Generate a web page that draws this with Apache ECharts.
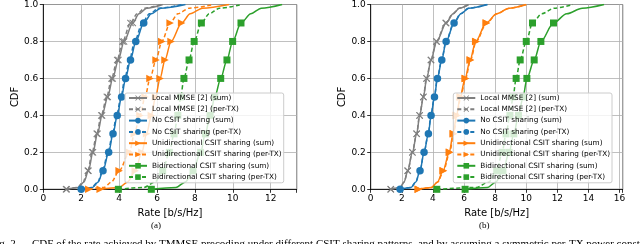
<!DOCTYPE html>
<html><head><meta charset="utf-8">
<script src="https://cdn.jsdelivr.net/npm/echarts@6/dist/echarts.min.js"></script>
<style>html,body{margin:0;padding:0;background:#fff}#c{width:640px;height:244px}</style>
</head><body><div id="c"></div>
<script>
// CDF levels at which rates were read; markers only on the 0..0.9 step levels
const cdfLevels = [0, 0.01, 0.04, 0.1, 0.2, 0.3, 0.4, 0.5, 0.6, 0.7, 0.8, 0.9, 0.95, 0.98, 1.0];
const markedLevels = [0, 0.1, 0.2, 0.3, 0.4, 0.5, 0.6, 0.7, 0.8, 0.9];
const seriesNames = [
  'Local MMSE [2] (sum)', 'Local MMSE [2] (per-TX)',
  'No CSIT sharing (sum)', 'No CSIT sharing (per-TX)',
  'Unidirectional CSIT sharing (sum)', 'Unidirectional CSIT sharing (per-TX)',
  'Bidirectional CSIT sharing (sum)', 'Bidirectional CSIT sharing (per-TX)'
];
const xTicksA = [0, 2, 4, 6, 8, 10, 12];
const xTicksB = [0, 2, 4, 6, 8, 10, 12, 14, 16];
const yTicks = [0.0, 0.2, 0.4, 0.6, 0.8, 1.0];

// Panel (a): rate [b/s/Hz] at each CDF level
const aLocalSum  = [1.23, 1.85, 2.15, 2.38, 2.62, 2.86, 3.10, 3.40, 3.66, 3.96, 4.26, 4.72, 5.05, 5.45, 6.3];
const aLocalPer  = [1.20, 1.80, 2.10, 2.35, 2.58, 2.82, 3.06, 3.35, 3.60, 3.90, 4.18, 4.60, 4.95, 5.35, 6.2];
const aNoSum     = [2.00, 2.60, 2.90, 3.15, 3.45, 3.68, 3.90, 4.13, 4.34, 4.60, 4.88, 5.30, 5.70, 6.20, 7.5];
const aNoPer     = [2.00, 2.55, 2.88, 3.12, 3.42, 3.65, 3.87, 4.10, 4.30, 4.55, 4.82, 5.22, 5.60, 6.10, 7.3];
const aUniSum    = [3.00, 4.00, 4.45, 4.85, 5.20, 5.45, 5.70, 5.92, 6.16, 6.42, 6.74, 7.30, 7.75, 8.40, 9.8];
const aUniPer    = [2.40, 3.20, 3.60, 4.00, 4.55, 4.80, 5.10, 5.37, 5.63, 5.95, 6.25, 6.69, 7.10, 7.70, 9.0];
const aBiSum     = [5.70, 7.00, 7.50, 7.90, 8.30, 8.55, 8.80, 9.05, 9.36, 9.69, 9.99, 10.43, 10.95, 11.5, 12.6];
const aBiPer     = [3.96, 5.30, 5.90, 6.30, 6.65, 6.90, 7.10, 7.25, 7.42, 7.69, 7.96, 8.34, 8.75, 9.30, 10.5];

// Panel (b)
const bLocalSum  = [1.29, 1.90, 2.15, 2.38, 2.68, 2.96, 3.15, 3.39, 3.60, 3.88, 4.24, 4.85, 5.30, 5.70, 6.3];
const bLocalPer  = [1.29, 1.90, 2.15, 2.38, 2.68, 2.95, 3.14, 3.38, 3.59, 3.87, 4.22, 4.82, 5.28, 5.68, 6.3];
const bNoSum     = [1.89, 2.60, 2.90, 3.17, 3.43, 3.71, 3.88, 4.10, 4.29, 4.57, 4.85, 5.36, 5.80, 6.30, 7.5];
const bNoPer     = [1.89, 2.60, 2.90, 3.17, 3.43, 3.70, 3.87, 4.09, 4.28, 4.56, 4.84, 5.34, 5.78, 6.28, 7.5];
const bUniSum    = [3.06, 3.90, 4.30, 4.65, 5.05, 5.30, 5.52, 5.75, 6.07, 6.39, 6.75, 7.42, 8.10, 8.90, 10.0];
const bUniPer    = [3.06, 3.92, 4.32, 4.68, 5.08, 5.33, 5.55, 5.78, 6.10, 6.42, 6.78, 7.45, 8.12, 8.92, 10.0];
const bBiSum     = [6.07, 7.50, 8.05, 8.50, 8.90, 9.20, 9.50, 9.80, 10.04, 10.51, 10.94, 11.75, 12.6, 13.6, 15.0];
const bBiPer     = [4.25, 6.80, 7.60, 8.10, 8.45, 8.70, 8.95, 9.15, 9.35, 9.61, 10.00, 10.40, 11.0, 11.8, 13.0];

const panelA = [aLocalSum, aLocalPer, aNoSum, aNoPer, aUniSum, aUniPer, aBiSum, aBiPer];
const panelB = [bLocalSum, bLocalPer, bNoSum, bNoPer, bUniSum, bUniPer, bBiSum, bBiPer];

const GRAY = '#7f7f7f', BLUE = '#1f77b4', ORANGE = '#ff7f0e', GREEN = '#2ca02c';
const XSYM = 'path://M0,1 L1,0 L5,4 L9,0 L10,1 L6,5 L10,9 L9,10 L5,6 L1,10 L0,9 L4,5 Z';
const TRI = 'path://M0,0 L10,5 L0,10 Z';
const styles = [
  {c: GRAY, dash: false, sym: XSYM, size: 7},
  {c: GRAY, dash: true, sym: XSYM, size: 7},
  {c: BLUE, dash: false, sym: 'circle', size: 7.5},
  {c: BLUE, dash: true, sym: 'circle', size: 4.5},
  {c: ORANGE, dash: false, sym: TRI, size: 7.5},
  {c: ORANGE, dash: true, sym: TRI, size: 7.5},
  {c: GREEN, dash: false, sym: 'rect', size: 7},
  {c: GREEN, dash: true, sym: 'rect', size: 7}
];

function mkSeries(idx, xs, g) {
  const st = styles[idx];
  const data = xs.map((x, i) => {
    const lvl = cdfLevels[i];
    return markedLevels.indexOf(lvl) >= 0 ? [x, lvl] : {value: [x, lvl], symbol: 'none'};
  });
  return {
    type: 'line', name: seriesNames[idx], xAxisIndex: g, yAxisIndex: g, data,
    smooth: 0.3, smoothMonotone: 'x', symbol: st.sym, symbolSize: st.size, showAllSymbol: true,
    lineStyle: {color: st.c, width: 1.5, type: st.dash ? [4, 2.5] : 'solid'},
    itemStyle: {color: st.c, borderWidth: 0},
    emphasis: {disabled: true}, silent: true, clip: true
  };
}

const FONT = 'DejaVu Sans';
function xAxis(g, max, ticks) {
  return {
    gridIndex: g, type: 'value', min: 0, max: max, interval: 2,
    axisLine: {show: true, onZero: false, lineStyle: {color: '#000', width: 0.8}},
    axisTick: {show: true, length: 3.5, lineStyle: {color: '#000', width: 0.8}},
    axisLabel: {fontSize: 9, color: '#000', margin: 5, fontFamily: FONT,
      formatter: v => ticks.indexOf(v) >= 0 ? String(v) : ''},
    splitLine: {show: true, lineStyle: {color: '#b0b0b0', width: 0.8}},
    name: 'Rate [b/s/Hz]', nameLocation: 'middle', nameGap: 15,
    nameTextStyle: {fontSize: 10, color: '#000', fontFamily: FONT}
  };
}
function yAxis(g, gap) {
  return {
    gridIndex: g, type: 'value', min: 0, max: 1, interval: 0.2,
    axisLine: {show: true, lineStyle: {color: '#000', width: 0.8}},
    axisTick: {show: true, length: 3.5, lineStyle: {color: '#000', width: 0.8}},
    axisLabel: {fontSize: 9, color: '#000', margin: 5, fontFamily: FONT,
      formatter: v => yTicks.some(t => Math.abs(t - v) < 1e-9) ? v.toFixed(1) : ''},
    splitLine: {show: true, lineStyle: {color: '#b0b0b0', width: 0.8}},
    name: 'CDF', nameLocation: 'middle', nameGap: gap, nameRotate: 90,
    nameTextStyle: {fontSize: 10, color: '#000', fontFamily: FONT}
  };
}
function legend(left) {
  return {
    left: left, top: 93, orient: 'vertical', data: seriesNames, selectedMode: false,
    itemWidth: 18, itemHeight: 7, itemGap: 4.3,
    textStyle: {fontSize: 7.3, lineHeight: 7, color: '#000', fontFamily: FONT},
    backgroundColor: 'rgba(255,255,255,0.8)', borderColor: '#cccccc', borderWidth: 1, borderRadius: 2,
    padding: [1.5, 2, 2.2, 3], z: 10
  };
}

const series = [];
panelA.forEach((xs, i) => series.push(mkSeries(i, xs, 0)));
panelB.forEach((xs, i) => series.push(mkSeries(i, xs, 1)));

const chart = echarts.init(document.getElementById('c'), null, {renderer: 'canvas'});
chart.setOption({
  animation: false,
  backgroundColor: '#fff',
  grid: [
    {left: 43.3, top: 2.7, width: 253.4, height: 186.6, show: true, borderColor: '#000', borderWidth: 0.8, backgroundColor: 'transparent'},
    {left: 370.7, top: 2.7, width: 252, height: 186.6, show: true, borderColor: '#000', borderWidth: 0.8, backgroundColor: 'transparent'}
  ],
  xAxis: [xAxis(0, 13.37, xTicksA), xAxis(1, 16.2, xTicksB)],
  yAxis: [yAxis(0, 20), yAxis(1, 21)],
  legend: [legend(125), legend(453.3)],
  series: series,
  graphic: [
    {type: 'text', left: 151, top: 221, style: {text: '(a)', fontSize: 9, fontFamily: 'Liberation Serif', fill: '#000'}},
    {type: 'text', left: 479, top: 221, style: {text: '(b)', fontSize: 9, fontFamily: 'Liberation Serif', fill: '#000'}},
    {type: 'text', left: -10, top: 238.5, style: {text: 'Fig. 2.', fontSize: 11, fontFamily: 'Liberation Serif', fill: '#000'}},
    {type: 'text', left: 32, top: 238.5, style: {text: 'CDF of the rate achieved by TMMSE precoding under different CSIT sharing patterns, and by assuming a symmetric per-TX power constraint.', fontSize: 11, fontFamily: 'Liberation Serif', fill: '#000'}}
  ]
});
</script></body></html>
